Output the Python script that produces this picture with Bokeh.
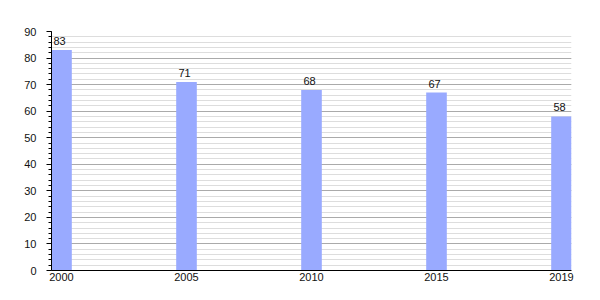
from bokeh.plotting import figure
from bokeh.models import ColumnDataSource, FixedTicker, SingleIntervalTicker, Range1d
from bokeh.core.properties import value
from bokeh.embed import file_html
from bokeh.resources import INLINE

years = ["2000", "2005", "2010", "2015", "2019"]
values = [83, 71, 68, 67, 58]
positions = list(range(len(years)))
labels = [str(v) for v in values]

src = ColumnDataSource(dict(x=positions, top=values, label=labels))

p = figure(width=600, height=300, output_backend="svg", toolbar_location=None,
           x_range=Range1d(-0.08, 4.08), y_range=Range1d(0, 90),
           min_border_left=51, min_border_right=29, min_border_top=31, min_border_bottom=30)
p.outline_line_color = None
p.background_fill_color = "white"

p.vbar(x="x", top="top", width=0.165, bottom=0, source=src,
       fill_color="#99AAFF", line_color=None)

p.text(x="x", y="top", text="label", source=src, text_align="center",
       text_baseline="bottom", y_offset=-5, x_offset=-2,
       text_font=value("Liberation Sans"), text_font_size="11px", text_color="#111111")

p.xaxis.ticker = FixedTicker(ticks=positions)
p.xaxis.major_label_overrides = {i: y for i, y in enumerate(years)}
p.xaxis.major_tick_line_color = None
p.xaxis.minor_tick_line_color = None
p.xaxis.major_tick_out = 0
p.xaxis.major_tick_in = 0
p.xaxis.minor_tick_out = 0
p.xaxis.axis_line_color = "black"
p.xaxis.major_label_standoff = 2
p.xgrid.grid_line_color = None

p.yaxis.ticker = SingleIntervalTicker(interval=10, num_minor_ticks=5)
p.yaxis.major_tick_out = 5
p.yaxis.major_tick_in = 0
p.yaxis.minor_tick_out = 3
p.yaxis.minor_tick_in = 0
p.yaxis.axis_line_color = "black"
p.yaxis.major_tick_line_color = "black"
p.yaxis.minor_tick_line_color = "black"
p.yaxis.major_label_standoff = 10

for ax in (p.xaxis, p.yaxis):
    ax.major_label_text_font = "Liberation Sans"
    ax.major_label_text_font_size = "11px"
    ax.major_label_text_color = "#111111"

p.ygrid.ticker = SingleIntervalTicker(interval=10, num_minor_ticks=5)
p.ygrid.grid_line_color = "#AAAAAA"
p.ygrid.minor_grid_line_color = "#DDDDDD"
p.ygrid.level = "underlay"

open("out.html", "w").write(file_html(p, INLINE))
